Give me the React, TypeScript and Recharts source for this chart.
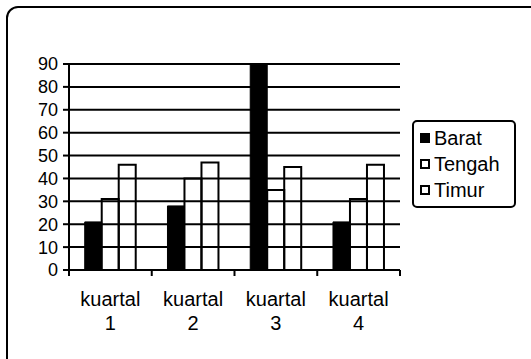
import { BarChart, Bar, XAxis, YAxis, CartesianGrid, Legend } from "recharts";

const quarters = ["kuartal 1", "kuartal 2", "kuartal 3", "kuartal 4"];
const barat = [21, 28, 90, 21];
const tengah = [31, 40, 35, 31];
const timur = [46, 47, 45, 46];
const yTicks = [0, 10, 20, 30, 40, 50, 60, 70, 80, 90];

const data = quarters.map((q, i) => ({
  quarter: q,
  Barat: barat[i],
  Tengah: tengah[i],
  Timur: timur[i],
}));

const FONT = '"Liberation Sans", Arial, sans-serif';

// category label on two lines, plus tick marks at the category edges
function QuarterTick({ x, y, payload, index, visibleTicksCount }: any) {
  const [word, num] = String(payload.value).split(" ");
  const half = payload.offset || 0;
  const isLast = index === visibleTicksCount - 1;
  return (
    <g>
      <line x1={x - half} x2={x - half} y1={y} y2={y + 6} stroke="#000" strokeWidth={2} />
      {isLast && (
        <line x1={x + half} x2={x + half} y1={y} y2={y + 6} stroke="#000" strokeWidth={2} />
      )}
      <text x={x} y={y} textAnchor="middle" fill="#000" fontSize={20} fontFamily={FONT}>
        <tspan x={x} dy={36}>
          {word}
        </tspan>
        <tspan x={x} dy={24}>
          {num}
        </tspan>
      </text>
    </g>
  );
}

function LegendBox() {
  const items = [
    { name: "Barat", filled: true },
    { name: "Tengah", filled: false },
    { name: "Timur", filled: false },
  ];
  return (
    <div
      style={{
        marginLeft: 12,
        border: "2px solid #000",
        borderRadius: 5,
        padding: "3px 4px 3px 6px",
        fontFamily: FONT,
        fontSize: 20,
        color: "#000",
        boxSizing: "border-box",
      }}
    >
      {items.map((it) => (
        <div key={it.name} style={{ display: "flex", alignItems: "center", height: 26 }}>
          <span
            style={{
              display: "inline-block",
              width: 10,
              height: 10,
              boxSizing: "border-box",
              border: "2px solid #000",
              background: it.filled ? "#000" : "#fff",
              marginRight: 4,
            }}
          />
          {it.name}
        </div>
      ))}
    </div>
  );
}

export default function App() {
  return (
    <div
      style={{
        position: "absolute",
        left: 0,
        top: 0,
        width: 531,
        height: 359,
        overflow: "hidden",
        background: "#fff",
      }}
    >
      <div
        style={{
          position: "absolute",
          left: 6,
          top: 6,
          width: 600,
          height: 500,
          border: "2px solid #000",
          borderRadius: 12,
        }}
      />
      <div style={{ position: "absolute", left: 0, top: 0 }}>
        <BarChart
          width={531}
          height={359}
          data={data}
          margin={{ top: 64, right: 15, bottom: 29, left: 0 }}
          barCategoryGap="19%"
          barGap={0}
        >
          <CartesianGrid vertical={false} stroke="#000" strokeWidth={2} />
          <XAxis
            dataKey="quarter"
            axisLine={{ stroke: "#000", strokeWidth: 2 }}
            tickLine={false}
            tickSize={0}
            tickMargin={0}
            height={60}
            interval={0}
            tick={<QuarterTick />}
          />
          <YAxis
            domain={[0, 90]}
            ticks={yTicks}
            width={69}
            interval={0}
            axisLine={{ stroke: "#000", strokeWidth: 2 }}
            tickLine={{ stroke: "#000", strokeWidth: 2 }}
            tickSize={6}
            tickMargin={5}
            tick={{ fill: "#000", fontSize: 18, fontFamily: FONT }}
          />
          <Legend
            layout="vertical"
            align="right"
            verticalAlign="middle"
            content={<LegendBox />}
            wrapperStyle={{ width: 116, top: 120, right: 15 }}
          />
          <Bar dataKey="Barat" fill="#000" stroke="#000" strokeWidth={1} isAnimationActive={false} />
          <Bar dataKey="Tengah" fill="none" stroke="#000" strokeWidth={2} isAnimationActive={false} />
          <Bar dataKey="Timur" fill="none" stroke="#000" strokeWidth={2} isAnimationActive={false} />
        </BarChart>
      </div>
    </div>
  );
}
